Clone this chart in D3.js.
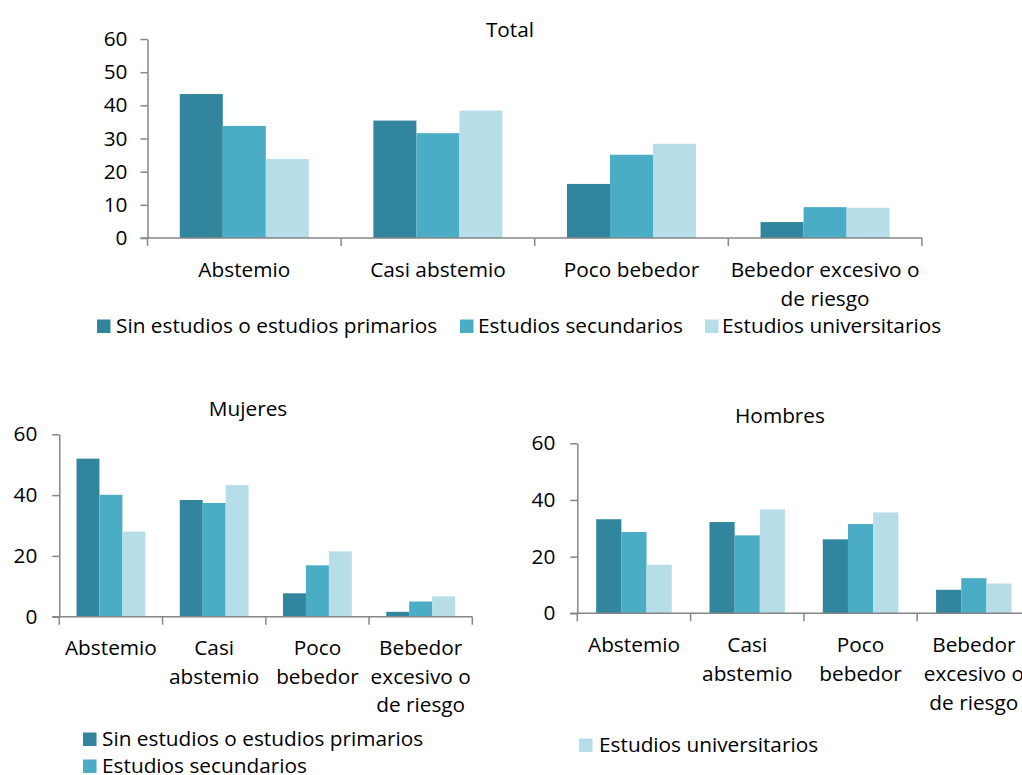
<!DOCTYPE html>
<html><head><meta charset="utf-8">
<script src="https://cdn.jsdelivr.net/npm/d3@7"></script>
<style>
html,body{margin:0;padding:0;background:#fff;overflow:hidden}
svg text{font-family:"Open Sans",sans-serif;fill:#000}
</style></head>
<body>
<svg id="chart" width="1022" height="775"></svg>
<script>
// ---- data ----
const seriesNames = ["Sin estudios o estudios primarios","Estudios secundarios","Estudios universitarios"];
const seriesColors = ["#31859C","#4BACC6","#B7DEE8"];
const categoryKeys = ["Abstemio","Casi abstemio","Poco bebedor","Bebedor excesivo o de riesgo"];
const topCategoryLines = [["Abstemio"],["Casi abstemio"],["Poco bebedor"],["Bebedor excesivo o","de riesgo"]];
const smallCategoryLines = [["Abstemio"],["Casi","abstemio"],["Poco","bebedor"],["Bebedor","excesivo o","de riesgo"]];

const totalSin = [43.4, 35.4, 16.3, 4.8];
const totalSec = [33.8, 31.6, 25.1, 9.3];
const totalUni = [23.8, 38.4, 28.4, 9.1];

const mujeresSin = [52.0, 38.4, 7.7, 1.6];
const mujeresSec = [40.1, 37.4, 16.9, 5.0];
const mujeresUni = [28.0, 43.3, 21.5, 6.7];

const hombresSin = [33.2, 32.2, 26.1, 8.3];
const hombresSec = [28.7, 27.5, 31.5, 12.4];
const hombresUni = [17.1, 36.7, 35.6, 10.5];

const topTicks = [0,10,20,30,40,50,60];
const smallTicks = [0,20,40,60];

const svg = d3.select("#chart");
const FS = 20.8;

function drawChart(cfg){
  const g = svg.append("g");
  const x = d3.scaleBand().domain(categoryKeys).range([cfg.x0, cfg.x0 + cfg.band*4]).paddingInner(0).paddingOuter(0);
  const y = d3.scaleLinear().domain([0,60]).range([cfg.y0, cfg.y60]);
  const inner = d3.scaleBand().domain([0,1,2]).range([0, cfg.band]).paddingInner(0).paddingOuter(0.75);
  const vals = cfg.values;
  // bars
  vals.forEach((arr, si) => {
    g.selectAll(null).data(arr).enter().append("rect")
      .attr("x", (d,i) => x(categoryKeys[i]) + inner(si))
      .attr("width", inner.bandwidth())
      .attr("y", d => y(d))
      .attr("height", d => y(0) - y(d))
      .attr("fill", seriesColors[si]);
  });
  // y axis
  const ya = d3.axisLeft(y).tickValues(cfg.ticks).tickSize(7).tickSizeOuter(0).tickPadding(cfg.tickPad);
  const yg = g.append("g").attr("transform", `translate(${cfg.x0},0)`).call(ya);
  yg.select(".domain").attr("stroke","#868686").attr("stroke-width",1.5);
  yg.selectAll(".tick line").attr("stroke","#868686").attr("stroke-width",1.5);
  yg.selectAll(".tick text").style("font-size", FS+"px").style("font-family","'Open Sans'").attr("fill","#000");
  // x axis
  const xaxisEnd = cfg.x0 + cfg.band*4;
  g.append("line").attr("x1", cfg.x0-7).attr("x2", xaxisEnd).attr("y1", y(0)).attr("y2", y(0))
    .attr("stroke","#868686").attr("stroke-width",1.5);
  const bounds = d3.range(5).map(i => cfg.x0 + cfg.band*i);
  g.selectAll(null).data(bounds).enter().append("line")
    .attr("x1", d=>d).attr("x2", d=>d).attr("y1", y(0)).attr("y2", y(0)+8)
    .attr("stroke","#868686").attr("stroke-width",1.5);
  // category labels
  cfg.labels.forEach((lines, i) => {
    const cx = x(categoryKeys[i]) + x.bandwidth()/2;
    lines.forEach((ln, li) => {
      g.append("text").attr("x", cx).attr("y", cfg.labelY + li*cfg.lineH)
        .attr("text-anchor","middle").style("font-size", FS+"px").text(ln);
    });
  });
  // title
  g.append("text").attr("x", cfg.titleX).attr("y", cfg.titleY).attr("text-anchor","middle")
    .style("font-size", FS+"px").text(cfg.title);
  // legend
  cfg.legend.forEach(it => {
    g.append("rect").attr("x", it.x).attr("y", it.y-13.5).attr("width", 13.5).attr("height", 13.5).attr("fill", seriesColors[it.s]);
    g.append("text").attr("x", it.x + it.dx).attr("y", it.y).style("font-size", FS+"px").text(seriesNames[it.s]);
  });
}

drawChart({
  x0:147.5, band:193.6, y0:238, y60:39, ticks:topTicks, tickPad:13,
  values:[totalSin,totalSec,totalUni], labels:topCategoryLines, labelY:277, lineH:29,
  title:"Total", titleX:510, titleY:37,
  legend:[{s:0,x:97,y:333,dx:19},{s:1,x:460,y:333,dx:18},{s:2,x:705,y:333,dx:17}]
});
drawChart({
  x0:59.3, band:103.25, y0:616.7, y60:434.3, ticks:smallTicks, tickPad:15,
  values:[mujeresSin,mujeresSec,mujeresUni], labels:smallCategoryLines, labelY:655, lineH:28.5,
  title:"Mujeres", titleX:248, titleY:416,
  legend:[{s:0,x:83,y:746,dx:19},{s:1,x:83,y:773,dx:19}]
});
drawChart({
  x0:577.3, band:113.3, y0:613.3, y60:443.3, ticks:smallTicks, tickPad:15,
  values:[hombresSin,hombresSec,hombresUni], labels:smallCategoryLines, labelY:652, lineH:29,
  title:"Hombres", titleX:780, titleY:423,
  legend:[{s:2,x:579,y:752,dx:20}]
});
</script>
</body></html>
